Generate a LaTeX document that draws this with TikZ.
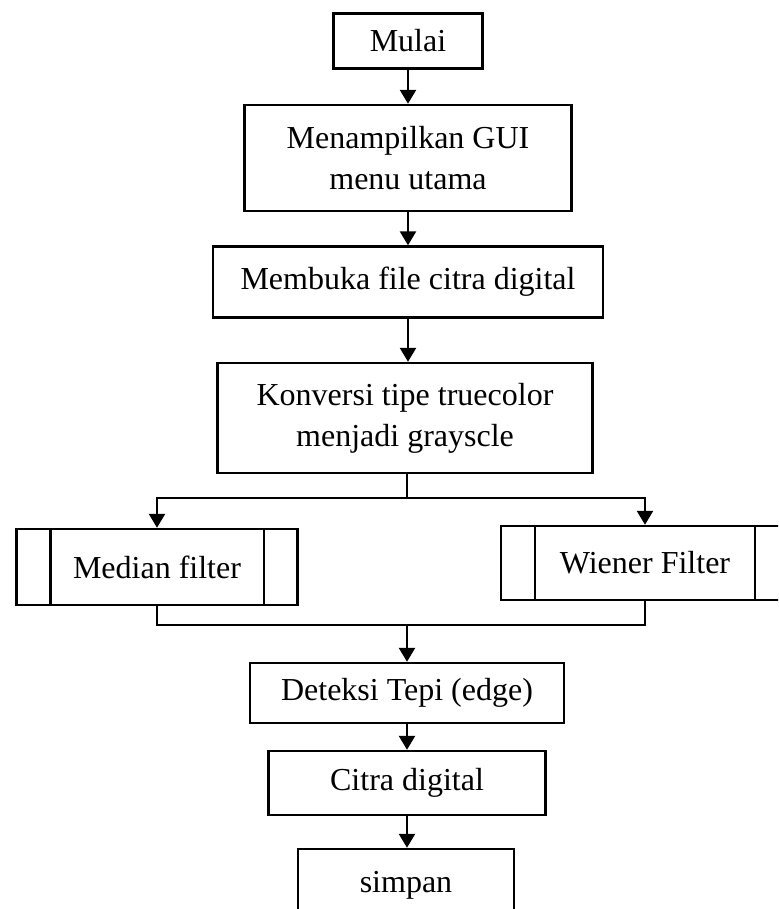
\documentclass[tikz,border=0pt]{standalone}
\usepackage{fontspec}
\setmainfont{Liberation Serif}
\usetikzlibrary{arrows.meta}
\begin{document}
\begin{tikzpicture}[x=0.5pt, y=-0.5pt, >={Triangle[length=7pt, width=8pt]}, line width=1.2pt,
		kotak/.style={draw, align=center, inner sep=0pt, font=\fontsize{16}{20.5}\selectfont}]
	% 1. batas gambar (bingkai dan potongan tepi)
	\useasboundingbox (0,0) rectangle (778,909);
	\clip (0,0) rectangle (778,909);
	
	% 2. kotak proses utama
	\node[kotak, minimum width=74.5pt, minimum height=27.5pt] (mulai) at (408,41) {Mulai};
	\node[kotak, minimum width=163.5pt, minimum height=53pt] (gui) at (408,158) {Menampilkan GUI\\menu utama};
	\node[kotak, minimum width=195pt, minimum height=35.5pt] (buka) at (408,282) {Membuka file citra digital};
	\node[kotak, minimum width=187.5pt, minimum height=55pt] (konv) at (405,418) {Konversi tipe truecolor\\menjadi grayscle};
	
	% 3. kotak sub-proses (filter)
	\node[kotak, minimum width=140.5pt, minimum height=38pt] (median) at (157,567) {Median filter};
	\node[kotak, minimum width=144pt, minimum height=37pt] (wiener) at (645,563) {Wiener Filter};
	\foreach \n in {median, wiener} {
		\draw ([xshift=17.5pt]\n.north west) -- ([xshift=17.5pt]\n.south west);
		\draw ([xshift=-17.5pt]\n.north east) -- ([xshift=-17.5pt]\n.south east);
	}
	
	% 4. kotak hasil
	\node[kotak, minimum width=157pt, minimum height=30pt] (tepi) at (407,693) {Deteksi Tepi (edge)};
	\node[kotak, minimum width=138.5pt, minimum height=32pt] (citra) at (407,783) {Citra digital};
	\node[kotak, minimum width=108pt, minimum height=36pt] (simpan) at (406,885) {simpan};
	
	% 5. titik cabang dan titik gabung
	\coordinate (cabang) at (407,498);
	\coordinate (gabung) at (407,625);
	
	% 6. panah alur
	\draw[->] (mulai.south) -- (gui.north);
	\draw[->] (gui.south) -- (buka.north);
	\draw[->] (buka.south) -- (konv.north -| buka.south);
	\draw (konv.south -| cabang) -- (cabang);
	\draw[->] (cabang) -| (median.north);
	\draw[->] (cabang) -| (wiener.north);
	\draw (median.south) |- (gabung) -| (wiener.south);
	\draw[->] (gabung) -- (tepi.north);
	\draw[->] (tepi.south) -- (citra.north);
	\draw[->] (citra.south) -- (simpan.north -| citra.south);
\end{tikzpicture}
\end{document}
